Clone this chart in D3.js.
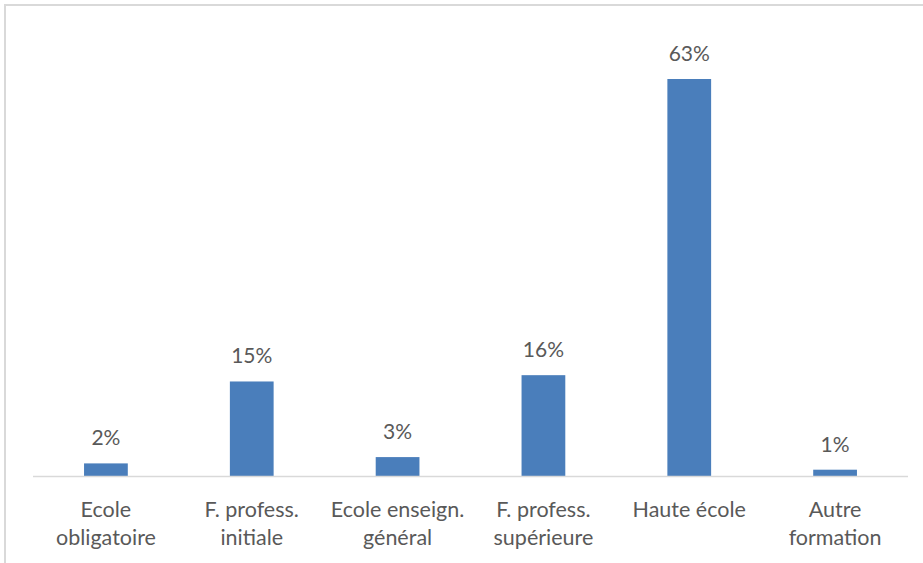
<!DOCTYPE html>
<html>
<head>
<meta charset="utf-8">
<script src="https://cdn.jsdelivr.net/npm/d3@7/dist/d3.min.js"></script>
<style>
  html, body { margin: 0; padding: 0; background: #fff; }
  svg { display: block; }
  text { font-family: "Lato", "Liberation Sans", sans-serif; fill: #595959; }
</style>
</head>
<body>
<svg id="chart" width="923" height="563"></svg>
<script>
// Highest completed education level, share of respondents
const categories = [
  ["Ecole", "obligatoire"],
  ["F. profess.", "initiale"],
  ["Ecole enseign.", "général"],
  ["F. profess.", "supérieure"],
  ["Haute école"],
  ["Autre", "formation"]
];
const values = [2, 15, 3, 16, 63, 1];

const svg = d3.select("#chart");
const W = 923, H = 563;

// outer frame
svg.append("rect")
  .attr("x", 5).attr("y", 5)
  .attr("width", W + 10).attr("height", H + 10)
  .attr("fill", "none").attr("stroke", "#d9d9d9").attr("stroke-width", 2);

const x0 = 33, x1 = 908, baseY = 476;

const x = d3.scaleBand()
  .domain(d3.range(categories.length))
  .range([x0, x1])
  .paddingInner(0.7)
  .paddingOuter(0.35);

const y = d3.scaleLinear()
  .domain([0, 63])
  .range([baseY, 79]);

svg.append("g")
  .selectAll("rect")
  .data(values)
  .join("rect")
  .attr("x", (d, i) => x(i))
  .attr("width", x.bandwidth())
  .attr("y", d => y(d))
  .attr("height", d => baseY - y(d))
  .attr("fill", "#4a7ebb");

// category axis
svg.append("line")
  .attr("x1", x0).attr("x2", x1)
  .attr("y1", baseY + 0.5).attr("y2", baseY + 0.5)
  .attr("stroke", "#d9d9d9").attr("stroke-width", 1.5);

// value labels
svg.append("g")
  .selectAll("text")
  .data(values)
  .join("text")
  .attr("x", (d, i) => x(i) + x.bandwidth() / 2)
  .attr("y", d => y(d) - 18)
  .attr("text-anchor", "middle")
  .attr("font-size", 21)
  .text(d => d + "%");

// category labels
const lab = svg.append("g")
  .selectAll("text")
  .data(categories)
  .join("text")
  .attr("x", (d, i) => x(i) + x.bandwidth() / 2)
  .attr("y", 517)
  .attr("text-anchor", "middle")
  .attr("font-size", 21.5);
lab.selectAll("tspan")
  .data(d => d)
  .join("tspan")
  .attr("x", function() { return this.parentNode.getAttribute("x"); })
  .attr("dy", (d, i) => i === 0 ? 0 : 28)
  .text(d => d);
</script>
</body>
</html>
